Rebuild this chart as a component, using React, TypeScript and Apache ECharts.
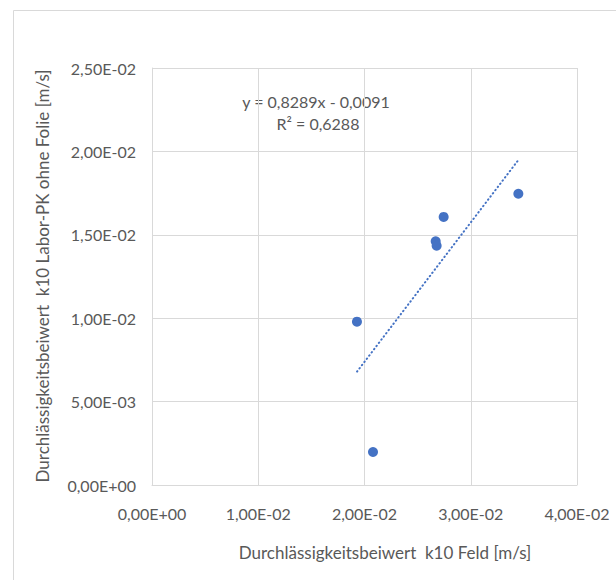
import React, { useEffect, useRef } from "react";
import * as echarts from "echarts";

const xValues = [0.01929, 0.0208, 0.0267, 0.02679, 0.02745, 0.03448];
const yValues = [0.00979, 0.00198, 0.01461, 0.01435, 0.01607, 0.01746];
const trendStart = [0.0193, 0.0068];
const trendEnd = [0.0345, 0.0195];
const equationText = "y = 0,8289x - 0,0091";
const r2Text = "R² = 0,6288";
const xTitle = "Durchlässigkeitsbeiwert  k10 Feld [m/s]";
const yTitle = "Durchlässigkeitsbeiwert  k10 Labor-PK ohne Folie [m/s]";

const fmt = (v: number) => {
  const s = v.toExponential(2);
  const [m, e] = s.split("e");
  const sign = e[0] === "-" ? "-" : "+";
  const digits = e.replace(/[+-]/, "").padStart(2, "0");
  return m.replace(".", ",") + "E" + sign + digits;
};

export default function App() {
  const ref = useRef<HTMLDivElement>(null);
  useEffect(() => {
    if (!ref.current) return;
    const chart = echarts.init(ref.current, undefined, { renderer: "svg" });
    const font = "Lato, 'Open Sans', sans-serif";
    const textColor = "#595959";
    chart.setOption({
      animation: false,
      backgroundColor: "#ffffff",
      grid: { left: 152, top: 68, width: 425, height: 417, containLabel: false },
      xAxis: {
        type: "value",
        min: 0,
        max: 0.04,
        interval: 0.01,
        axisLine: { show: true, lineStyle: { color: "#d9d9d9", width: 1 } },
        axisTick: { show: false },
        splitLine: { show: true, lineStyle: { color: "#d9d9d9", width: 1 } },
        axisLabel: { formatter: fmt, color: textColor, fontFamily: font, fontSize: 16, margin: 20 },
      },
      yAxis: {
        type: "value",
        min: 0,
        max: 0.025,
        interval: 0.005,
        axisLine: { show: true, lineStyle: { color: "#d9d9d9", width: 1 } },
        axisTick: { show: false },
        splitLine: { show: true, lineStyle: { color: "#d9d9d9", width: 1 } },
        axisLabel: { formatter: fmt, color: textColor, fontFamily: font, fontSize: 16, margin: 16 },
      },
      series: [
        {
          type: "line",
          data: [trendStart, trendEnd],
          symbol: "none",
          lineStyle: { color: "#4472C4", width: 2, type: [0.5, 3.5], cap: "round" },
          z: 1,
        },
        {
          type: "scatter",
          data: xValues.map((x, i) => [x, yValues[i]]),
          symbol: "circle",
          symbolSize: 10,
          itemStyle: { color: "#4472C4", opacity: 1 },
          z: 2,
        },
      ],
      graphic: [
        {
          type: "rect",
          shape: { x: 13.5, y: 10.5, width: 640, height: 600 },
          style: { fill: "none", stroke: "#d9d9d9", lineWidth: 1 },
          silent: true,
        },
        {
          type: "text",
          x: 316,
          y: 101,
          style: { text: equationText, fill: textColor, font: `16px ${font}`, align: "center", verticalAlign: "middle" },
        },
        {
          type: "text",
          x: 318,
          y: 123,
          style: { text: r2Text, fill: textColor, font: `16px ${font}`, align: "center", verticalAlign: "middle" },
        },
        {
          type: "text",
          x: 385,
          y: 552,
          style: { text: xTitle, fill: textColor, font: `17px ${font}`, align: "center", verticalAlign: "middle" },
        },
        {
          type: "text",
          x: 42,
          y: 276,
          rotation: Math.PI / 2,
          style: { text: yTitle, fill: textColor, font: `17px ${font}`, align: "center", verticalAlign: "middle" },
        },
      ],
    });
    return () => chart.dispose();
  }, []);
  return <div ref={ref} style={{ position: "fixed", left: 0, top: 0, width: 616, height: 580 }} />;
}
